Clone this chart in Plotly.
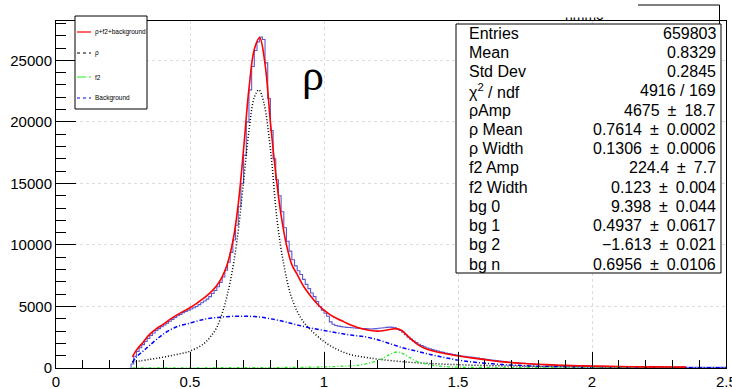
import plotly.graph_objects as go

W, H = 732, 389

# ---------------- data ----------------
hist_start = 0.28
bin_width = 0.01
hist_counts = [
    320, 950, 1350, 1650, 1900, 2150, 2400, 2650, 2850, 3050,
    3200, 3350, 3500, 3650, 3800, 3950, 4100, 4250, 4350, 4500,
    4600, 4700, 4800, 4900, 5000, 5150, 5300, 5450, 5600, 5800,
    6050, 6300, 6600, 6950, 7400, 7950, 8600, 9400, 10400, 11600,
    13100, 15000, 17300, 20000, 22600, 24500, 25800, 26500, 26900, 26700,
    24800, 21900, 19300, 17000, 15300, 14000, 12700, 11400, 10300, 9500,
    8800, 8300, 7900, 7600, 7200, 6800, 6450, 6100, 5800, 5400,
    5000, 4700, 4450, 4200, 3750, 3550, 3450, 3400, 3360, 3330,
    3300, 3290, 3270, 3250, 3230, 3220, 3200, 3200, 3180, 3170,
    3180, 3200, 3230, 3250, 3270, 3300, 3320, 3300, 3260, 3150,
    3050, 2900, 2700, 2500, 2350, 2200, 2060, 1930, 1820, 1720,
    1630, 1560, 1500, 1440, 1380, 1320, 1270, 1220, 1180, 1130,
    1090, 1050, 1010, 980, 950, 920, 890, 860, 830, 800,
    770, 740, 710, 680, 650, 620, 600, 570, 540, 520,
    490, 470, 450, 430, 410, 390, 375, 360, 345, 330,
    315, 300, 290, 280, 270, 260, 250, 240, 230, 222,
    215, 208, 200, 194, 188, 182, 176, 170, 165, 160,
    155, 150, 146, 142, 138, 134, 130, 127, 124, 121,
    118, 115, 112, 110, 107, 105, 102, 100, 98, 96,
    94, 92, 90, 88, 86, 84, 82, 80, 79, 77,
    76, 74, 73, 72, 70, 69, 68, 67, 66, 65,
    64, 63, 62, 61, 60, 59, 58, 57, 56, 55,
    54, 53,
]

total_x = [0.285, 0.30, 0.325, 0.35, 0.375, 0.40, 0.425, 0.45, 0.475, 0.50,
           0.525, 0.55, 0.575, 0.60, 0.62, 0.64, 0.66, 0.68, 0.70, 0.72,
           0.74, 0.76, 0.78, 0.80, 0.82, 0.84, 0.86, 0.88, 0.90, 0.925,
           0.95, 0.975, 1.00, 1.025, 1.05, 1.075, 1.10, 1.125, 1.15, 1.175,
           1.20, 1.225, 1.25, 1.27, 1.29, 1.31, 1.33, 1.35, 1.375, 1.40,
           1.45, 1.50, 1.55, 1.60, 1.65, 1.70, 1.75, 1.80, 1.85, 1.90,
           1.95, 2.00, 2.10, 2.20, 2.30, 2.35]
total_y = [900, 1450, 2100, 2750, 3200, 3550, 3950, 4300, 4600, 4900,
           5250, 5650, 6100, 6700, 7400, 8500, 10300, 13300, 17800, 22700,
           25900, 26850, 24700, 20000, 15800, 12400, 10000, 8400, 7600, 6600,
           5850, 5200, 4700, 4300, 4000, 3750, 3500, 3300, 3150, 3050,
           3000, 3050, 3150, 3200, 3050, 2650, 2250, 1900, 1600, 1420,
           1180, 980, 820, 680, 540, 440, 360, 300, 250, 210,
           180, 155, 120, 95, 80, 75]

rho_x = [0.285, 0.35, 0.40, 0.45, 0.50, 0.55, 0.575, 0.60, 0.625, 0.65,
         0.675, 0.70, 0.72, 0.74, 0.757, 0.775, 0.80, 0.825, 0.85, 0.875,
         0.90, 0.925, 0.95, 1.00, 1.05, 1.10, 1.15, 1.20, 1.30, 1.40,
         1.50, 1.60, 1.70, 1.80, 1.90, 2.00, 2.35]
rho_y = [480, 700, 880, 1100, 1370, 1950, 2500, 3300, 4800, 7000,
         10300, 15200, 19300, 22000, 22600, 21600, 17800, 12000, 8400, 6000,
         4600, 3700, 3100, 2150, 1500, 1080, 880, 720, 500, 360,
         270, 200, 160, 130, 110, 90, 60]

f2_x = [0.285, 0.50, 0.70, 0.90, 1.00, 1.10, 1.15, 1.20, 1.225, 1.25,
        1.275, 1.30, 1.325, 1.35, 1.40, 1.45, 1.50, 1.70, 2.00, 2.35]
f2_y = [10, 15, 25, 50, 90, 180, 300, 600, 850, 1150,
        1300, 1100, 780, 500, 230, 120, 70, 30, 15, 8]

bg_x = [0.285, 0.30, 0.325, 0.35, 0.40, 0.45, 0.50, 0.55, 0.60, 0.65,
        0.70, 0.75, 0.80, 0.85, 0.90, 0.95, 1.00, 1.05, 1.10, 1.15,
        1.20, 1.25, 1.30, 1.35, 1.40, 1.45, 1.50, 1.55, 1.60, 1.65,
        1.70, 1.80, 1.90, 2.00, 2.20, 2.50]
bg_y = [450, 900, 1370, 1850, 2750, 3350, 3650, 3950, 4100, 4190,
        4200, 4170, 4000, 3780, 3500, 3250, 3050, 2850, 2680, 2550,
        2300, 1950, 1600, 1350, 1080, 850, 640, 500, 390, 300,
        240, 140, 90, 60, 30, 10]

x_ticks = [0, 0.5, 1, 1.5, 2]
x_tick_text = ["0", "0.5", "1", "1.5", "2"]
x_last_tick = 2.5
x_last_text = "2.5"
y_ticks = [0, 5000, 10000, 15000, 20000, 25000]
y_tick_text = ["0", "5000", "10000", "15000", "20000", "25000"]

legend_labels = ["\u03c1+f2+background", "\u03c1", "f2", "Background"]

PM = "\u2002\u00b1\u2002"
stat_labels = ["Entries", "Mean", "Std Dev", "\u03c7<sup>2</sup> / ndf", "\u03c1Amp",
               "\u03c1 Mean", "\u03c1 Width", "f2 Amp", "f2 Width", "bg 0", "bg 1",
               "bg 2", "bg n"]
stat_values = ["659803", "0.8329", "0.2845", "4916 / 169", "4675" + PM + "18.7",
               "0.7614" + PM + "0.0002", "0.1306" + PM + "0.0006", "224.4" + PM + "7.7",
               "0.123" + PM + "0.004", "9.398" + PM + "0.044", "0.4937" + PM + "0.0617",
               "\u22121.613" + PM + "0.021", "0.6956" + PM + "0.0106"]

# ---------------- layout helpers (pixel -> paper) ----------------
def px(x):
    return x / W

def py(y):
    return 1 - y / H

X0, X1, Y0, Y1 = 56, 726, 368, 21   # plot frame in pixels
FONT = "Liberation Sans, Arial, sans-serif"

edges = [round(hist_start + i * bin_width, 4) for i in range(len(hist_counts) + 1)]
hx = [edges[0]] + edges
hy = [0] + hist_counts + [hist_counts[-1]]

fig = go.Figure()
fig.add_trace(go.Scatter(x=hx, y=hy, mode="lines", line=dict(color="#5a5ad2", width=1.1, shape="hv"),
                         showlegend=False, hoverinfo="skip"))
fig.add_trace(go.Scatter(x=bg_x, y=bg_y, mode="lines",
                         line=dict(color="#0000ff", width=1.5, dash="4px,2px,1px,2px", shape="spline"),
                         showlegend=False))
fig.add_trace(go.Scatter(x=rho_x, y=rho_y, mode="lines",
                         line=dict(color="#000000", width=1.5, dash="1px,2px", shape="spline"),
                         showlegend=False))
fig.add_trace(go.Scatter(x=f2_x, y=f2_y, mode="lines",
                         line=dict(color="#22ee22", width=1.3, dash="3px,2px,1px,2px", shape="spline"),
                         showlegend=False))
fig.add_trace(go.Scatter(x=total_x, y=total_y, mode="lines",
                         line=dict(color="#ff0000", width=1.6, shape="spline"),
                         showlegend=False))

axis_common = dict(showline=True, linecolor="black", linewidth=1, mirror=True,
                   ticks="inside", tickcolor="black", zeroline=False,
                   showgrid=True, gridcolor="#dcdcdc", griddash="dot", gridwidth=1,
                   automargin=False)

fig.update_layout(
    width=W, height=H,
    margin=dict(l=0, r=0, t=0, b=0),
    paper_bgcolor="white", plot_bgcolor="white",
    font=dict(family=FONT, color="black"),
    xaxis=dict(domain=[px(X0), px(X1)], range=[0, 2.5],
               tickvals=x_ticks + [x_last_tick], ticktext=x_tick_text + [""], ticklen=16,
               tickfont=dict(size=15),
               minor=dict(dtick=0.1, ticklen=8, ticks="inside", tickcolor="black", showgrid=False),
               **axis_common),
    yaxis=dict(domain=[py(Y0), py(Y1)], range=[0, 28200],
               tickvals=y_ticks, ticktext=y_tick_text, ticklen=20,
               tickfont=dict(size=15),
               minor=dict(dtick=1000, ticklen=10, ticks="inside", tickcolor="black", showgrid=False),
               **axis_common),
)

shapes = []
annotations = []

# last x tick label (partly outside the window, as in the reference)
annotations.append(dict(xref="x", yref="paper", x=x_last_tick, y=py(Y0 + 3), xanchor="center", yanchor="top",
                        text=x_last_text, showarrow=False, font=dict(size=15, family=FONT)))

# legend box
LX0, LX1, LY0, LY1 = 75, 147, 16, 109
shapes.append(dict(type="rect", xref="paper", yref="paper", x0=px(LX0), x1=px(LX1), y0=py(LY1), y1=py(LY0),
                   line=dict(color="black", width=1), fillcolor="white", layer="above"))
leg_styles = [dict(color="#ff0000", width=1.2, dash="solid"),
              dict(color="#000000", width=1.2, dash="dot"),
              dict(color="#22ee22", width=1.2, dash="dashdot"),
              dict(color="#0000ff", width=1.2, dash="dot")]
leg_y = [32, 53, 77, 98]
for lab, st, yy in zip(legend_labels, leg_styles, leg_y):
    shapes.append(dict(type="line", xref="paper", yref="paper", x0=px(77), x1=px(91), y0=py(yy), y1=py(yy),
                       line=st, layer="above"))
    annotations.append(dict(xref="paper", yref="paper", x=px(93), y=py(yy), xanchor="left", yanchor="middle",
                            text=lab, showarrow=False, font=dict(size=6.5, family=FONT)))

# big rho label
annotations.append(dict(xref="paper", yref="paper", x=px(313), y=py(76), xanchor="center", yanchor="middle",
                        text="\u03c1", showarrow=False, font=dict(size=44, family="Liberation Serif, serif")))

# title box fragment
shapes.append(dict(type="line", xref="paper", yref="paper", x0=px(638), x1=px(719.5), y0=py(5), y1=py(5),
                   line=dict(color="black", width=1), layer="above"))
shapes.append(dict(type="line", xref="paper", yref="paper", x0=px(719.5), x1=px(719.5), y0=py(5), y1=py(24),
                   line=dict(color="black", width=1), layer="above"))
annotations.append(dict(xref="paper", yref="paper", x=px(584), y=py(25), xanchor="center", yanchor="bottom",
                        text="hmmo", showarrow=False, font=dict(size=14, family=FONT)))
annotations.append(dict(xref="paper", yref="paper", x=px(584), y=py(10.5), xanchor="center", yanchor="middle",
                        text=" ", showarrow=False, width=52, height=13, bgcolor="white", borderpad=0,
                        font=dict(size=10)))

# stats box
SX0, SX1, SY0, SY1 = 456, 721, 24, 273
shapes.append(dict(type="rect", xref="paper", yref="paper", x0=px(SX0), x1=px(SX1), y0=py(SY1), y1=py(SY0),
                   line=dict(color="black", width=1), fillcolor="white", layer="above"))
for i, (lab, val) in enumerate(zip(stat_labels, stat_values)):
    yy = 33 + 19.25 * i
    annotations.append(dict(xref="paper", yref="paper", x=px(467), y=py(yy), xanchor="left", yanchor="middle",
                            text=lab, showarrow=False, font=dict(size=16, family=FONT)))
    annotations.append(dict(xref="paper", yref="paper", x=px(718), y=py(yy), xanchor="right", yanchor="middle",
                            text=val, showarrow=False, font=dict(size=16, family=FONT)))

fig.update_layout(shapes=shapes, annotations=annotations)
fig.write_html("out.html")
